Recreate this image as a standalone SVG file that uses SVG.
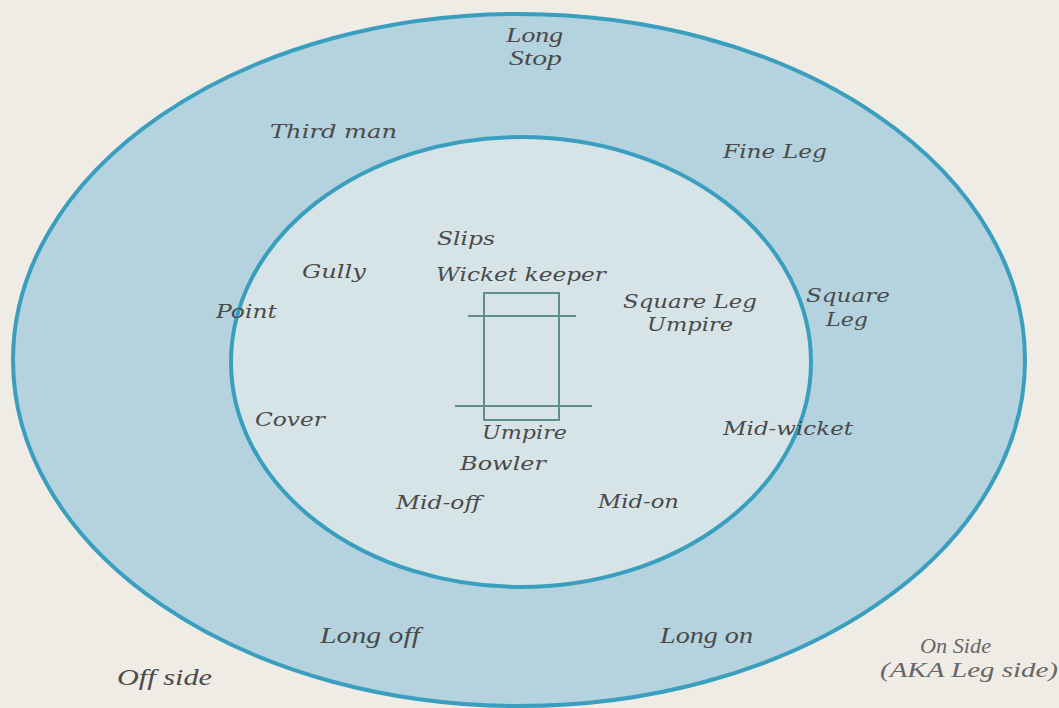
<svg xmlns="http://www.w3.org/2000/svg" width="1059" height="708" viewBox="0 0 1059 708">
<style>
.w{font-family:"DejaVu Serif","Liberation Serif",serif;font-style:italic;font-size:19px;fill:#4a4a4a}
.n{font-family:"Liberation Serif","DejaVu Serif",serif;font-style:italic;font-size:24px;fill:#4a4a4a}
.s{font-family:"Liberation Serif","DejaVu Serif",serif;font-style:italic;font-size:20px;fill:#4a4a4a}
.g{fill:#666}
.b{stroke:#3a9fbf;stroke-width:4}
.p{fill:none;stroke:#5f8e90;stroke-width:2}
</style>
<rect width="1059" height="708" fill="#efebe5"/>
<g id="outer-field"><ellipse cx="519" cy="360" rx="506" ry="346" fill="#b4d3de" class="b"/></g>
<g id="inner-circle"><ellipse cx="521" cy="362" rx="290" ry="225" fill="#d6e4e7" class="b"/></g>
<g id="pitch">
<rect x="484" y="293" width="75" height="127" fill="#e3ebeb" class="p"/>
<line x1="468" y1="316" x2="576" y2="316" class="p"/>
<line x1="455" y1="406" x2="592" y2="406" class="p"/>
</g>
<g id="labels">
<text class="s" x="506" y="42" textLength="57" lengthAdjust="spacingAndGlyphs">Long</text>
<text class="s" x="509" y="65" textLength="53" lengthAdjust="spacingAndGlyphs">Stop</text>
<text class="w" x="270" y="138" textLength="127" lengthAdjust="spacingAndGlyphs">Third man</text>
<text class="w" x="723" y="158" textLength="104" lengthAdjust="spacingAndGlyphs">Fine Leg</text>
<text class="w" x="437" y="245" textLength="58" lengthAdjust="spacingAndGlyphs">Slips</text>
<text class="w" x="302" y="278" textLength="64" lengthAdjust="spacingAndGlyphs">Gully</text>
<text class="w" x="436" y="281" textLength="170" lengthAdjust="spacingAndGlyphs">Wicket keeper</text>
<text class="w" x="216" y="318" textLength="61" lengthAdjust="spacingAndGlyphs">Point</text>
<text class="w" x="623" y="308" textLength="134" lengthAdjust="spacingAndGlyphs">Square Leg</text>
<text class="w" x="647" y="331" textLength="86" lengthAdjust="spacingAndGlyphs">Umpire</text>
<text class="w" x="806" y="302" textLength="84" lengthAdjust="spacingAndGlyphs">Square</text>
<text class="w" x="826" y="326" textLength="42" lengthAdjust="spacingAndGlyphs">Leg</text>
<text class="w" x="255" y="426" textLength="70" lengthAdjust="spacingAndGlyphs">Cover</text>
<text class="w" x="723" y="435" textLength="130" lengthAdjust="spacingAndGlyphs">Mid-wicket</text>
<text class="w" x="482" y="439" textLength="85" lengthAdjust="spacingAndGlyphs">Umpire</text>
<text class="w" x="460" y="470" textLength="86" lengthAdjust="spacingAndGlyphs">Bowler</text>
<text class="w" x="396" y="509" textLength="85" lengthAdjust="spacingAndGlyphs">Mid-off</text>
<text class="w" x="598" y="508" textLength="81" lengthAdjust="spacingAndGlyphs">Mid-on</text>
<text class="n" x="320" y="643" textLength="100" lengthAdjust="spacingAndGlyphs">Long off</text>
<text class="n" x="660" y="643" textLength="93" lengthAdjust="spacingAndGlyphs">Long on</text>
<text class="s g" style="font-size:22px" x="920" y="653" textLength="71" lengthAdjust="spacingAndGlyphs">On Side</text>
<text class="s g" style="font-size:22px" x="880" y="677" textLength="178" lengthAdjust="spacingAndGlyphs">(AKA Leg side)</text>
<text class="n" x="117" y="685" textLength="95" lengthAdjust="spacingAndGlyphs">Off side</text>
</g>
</svg>
